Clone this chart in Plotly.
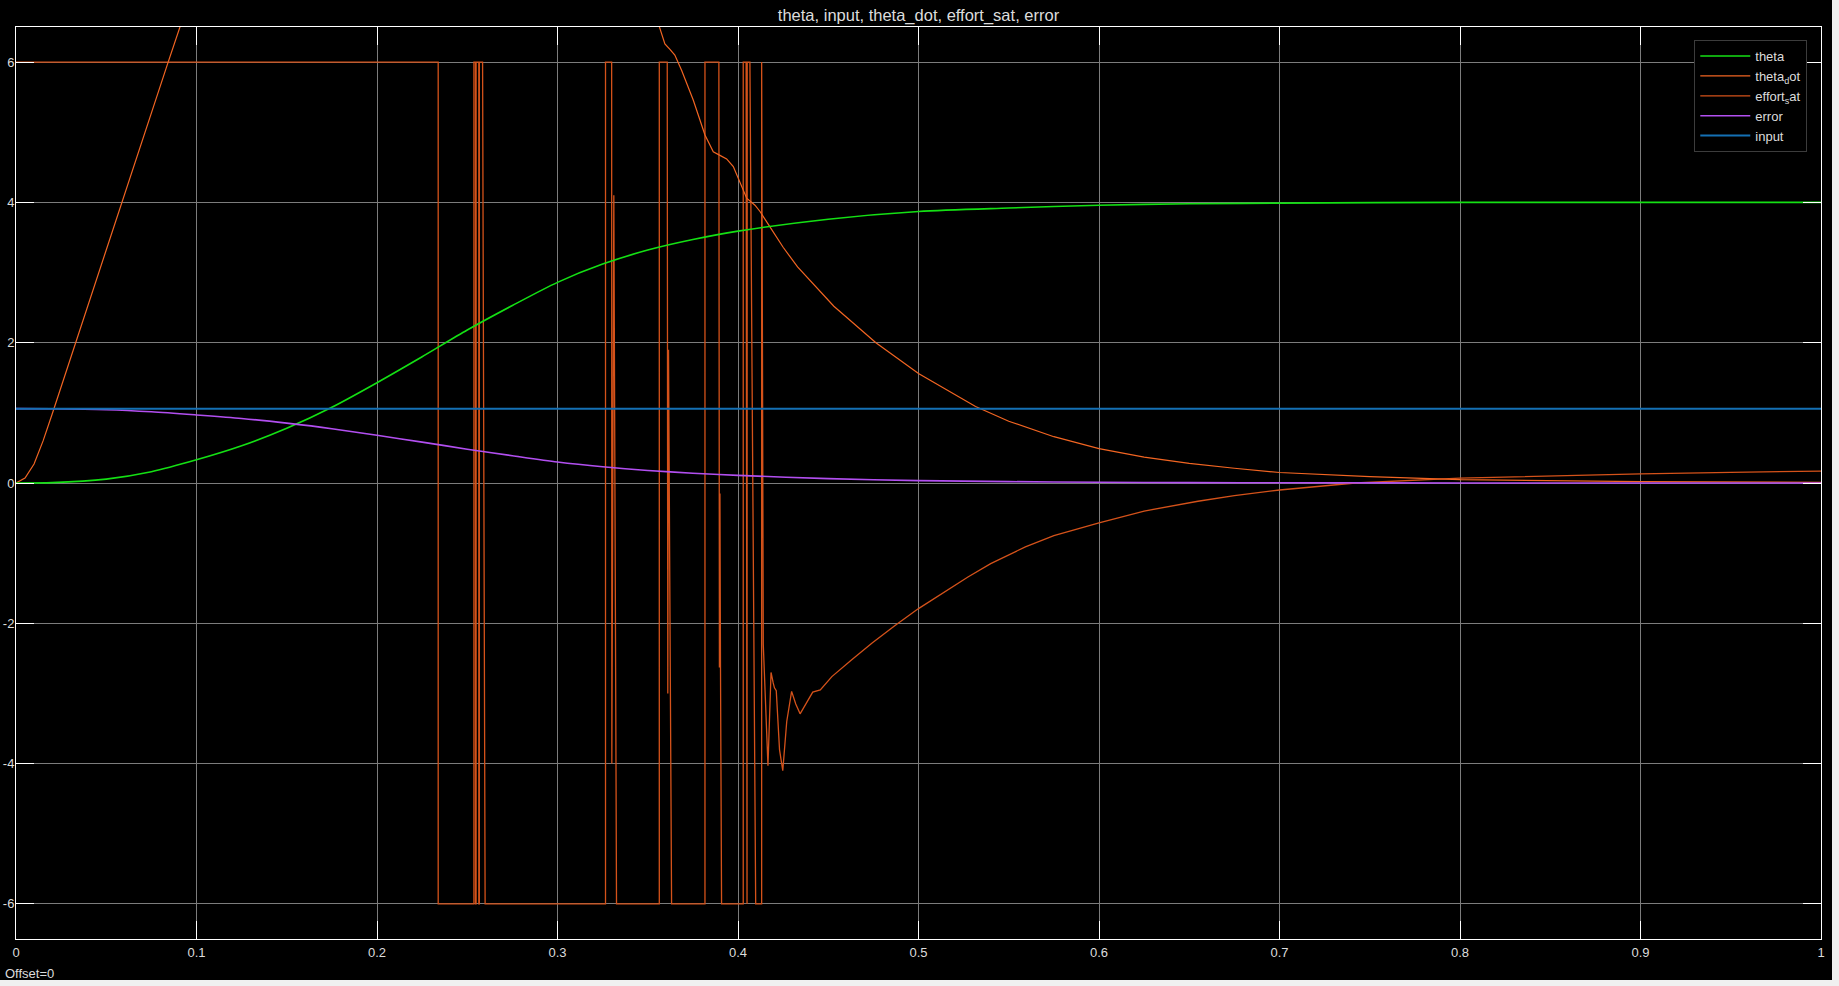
import plotly.graph_objects as go

# ---------------- data ----------------
theta_t = [0, 0.02, 0.05, 0.075, 0.1, 0.125, 0.15, 0.175, 0.2, 0.225, 0.25, 0.275, 0.3,
           0.325, 0.35, 0.375, 0.4, 0.45, 0.5, 0.55, 0.6, 0.65, 0.7, 0.8, 0.9, 1.0]
theta_v = [0, 0.005, 0.055, 0.16, 0.33, 0.53, 0.78, 1.08, 1.43, 1.80, 2.18, 2.53, 2.86,
           3.12, 3.32, 3.47, 3.59, 3.76, 3.87, 3.92, 3.96, 3.98, 3.99, 4.0, 4.0, 4.0]

error_t = theta_t
error_v = [1.06, 1.058, 1.045, 1.015, 0.97, 0.92, 0.853, 0.774, 0.68, 0.583, 0.482, 0.389, 0.30,
           0.232, 0.179, 0.14, 0.108, 0.063, 0.034, 0.02, 0.01, 0.005, 0.003, 0.0, 0.0, 0.0]

input_t = [0, 1.0]
input_v = [1.06, 1.06]

theta_dot_t = [0, 0.005, 0.01, 0.015, 0.02, 0.025, 0.03, 0.0353, 0.0584, 0.0843, 0.1, 0.12,
               0.15, 0.2, 0.25, 0.3, 0.33, 0.35, 0.3564, 0.3595, 0.3623, 0.365, 0.3688,
               0.3752, 0.3817, 0.3845, 0.3863, 0.390, 0.3937, 0.3974, 0.4, 0.4048, 0.4094,
               0.4122, 0.4177, 0.425, 0.433, 0.4531, 0.4764, 0.5, 0.5316, 0.55, 0.575, 0.6,
               0.625, 0.65, 0.675, 0.7, 0.75, 0.8, 0.9, 1.0]
theta_dot_v = [0, 0.07, 0.27, 0.6, 0.98, 1.37, 1.76, 2.18, 4.0, 6.0, 7.2, 8.6,
               10.2, 11.6, 11.8, 10.4, 8.6, 7.0, 6.49, 6.26, 6.18, 6.10, 5.88,
               5.46, 4.96, 4.80, 4.72, 4.67, 4.62, 4.51, 4.35, 4.06, 3.96,
               3.87, 3.65, 3.36, 3.08, 2.52, 2.0, 1.56, 1.09, 0.88, 0.66, 0.49,
               0.37, 0.28, 0.21, 0.15, 0.09, 0.047, 0.02, 0.01]

effort_sat_t = [0, 0.2339, 0.2339, 0.2537, 0.2537, 0.2546, 0.2546, 0.2549, 0.2549, 0.2564,
                0.2564, 0.2567, 0.2567, 0.2585, 0.2599, 0.3266, 0.3266, 0.3300, 0.3301,
                0.3312, 0.3327, 0.3564, 0.3564, 0.3608, 0.3611, 0.3615, 0.3632, 0.3817,
                0.3817, 0.3894, 0.3897, 0.3900, 0.3903, 0.3909, 0.4029, 0.4029, 0.4045,
                0.4046, 0.4050, 0.4051, 0.4066, 0.4098, 0.4131, 0.4131, 0.4140, 0.4166,
                0.4183, 0.4195, 0.4202, 0.4212, 0.4230, 0.4248, 0.4270, 0.4297, 0.4320,
                0.4344, 0.4380, 0.4414, 0.4456, 0.4520, 0.4630, 0.4743, 0.4870, 0.5,
                0.5274, 0.54, 0.5592, 0.575, 0.6, 0.625, 0.6548, 0.675, 0.7, 0.742,
                0.8, 0.85, 0.9, 0.95, 1.0]
effort_sat_v = [6, 6, -6, -6, 6, 6, -6, -6, 6, 6,
                -6, -6, 6, 6, -6, -6, 6, 6, -4.0,
                4.1, -6, -6, 6, 6, -3.0, 1.9, -6, -6,
                6, 6, -2.63, -0.15, -2.63, -6, -6, 6, 6,
                -6, -6, 6, 6, -6, -6, 6, -2.3, -4.03,
                -2.70, -2.85, -2.92, -2.96, -3.8, -4.10, -3.4, -2.97, -3.15,
                -3.29, -3.12, -2.98, -2.95, -2.76, -2.52, -2.28, -2.03, -1.79,
                -1.34, -1.15, -0.91, -0.75, -0.57, -0.40, -0.26, -0.18, -0.10, 0.0,
                0.07, 0.105, 0.13, 0.152, 0.17]

x_tick_vals = [0, 0.1, 0.2, 0.3, 0.4, 0.5, 0.6, 0.7, 0.8, 0.9, 1]
x_tick_text = ["0", "0.1", "0.2", "0.3", "0.4", "0.5", "0.6", "0.7", "0.8", "0.9", "1"]
y_tick_vals = [-6, -4, -2, 0, 2, 4, 6]
y_tick_text = ["-6", "-4", "-2", "0", "2", "4", "6"]

# ---------------- figure ----------------
FONT = "Liberation Sans, Arial, sans-serif"
TXT = "#dcdcdc"

fig = go.Figure()
fig.add_trace(go.Scatter(x=effort_sat_t, y=effort_sat_v, mode="lines", name="effort<sub>s</sub>at",
                         line=dict(color="#d4521a", width=1.3), legendrank=3))
fig.add_trace(go.Scatter(x=theta_dot_t, y=theta_dot_v, mode="lines", name="theta<sub>d</sub>ot",
                         line=dict(color="#f26522", width=1.2), legendrank=2))
fig.add_trace(go.Scatter(x=theta_t, y=theta_v, mode="lines", name="theta",
                         line=dict(color="#14e014", width=1.6, shape="spline", smoothing=0.8),
                         legendrank=1))
fig.add_trace(go.Scatter(x=error_t, y=error_v, mode="lines", name="error",
                         line=dict(color="#b24ff0", width=1.6, shape="spline", smoothing=0.8),
                         legendrank=4))
fig.add_trace(go.Scatter(x=input_t, y=input_v, mode="lines", name="input",
                         line=dict(color="#1470b4", width=2), legendrank=5))

W, H = 1832, 980
ML, MR, MT, MB = 16, 11, 27, 41

fig.update_layout(
    width=W, height=H,
    margin=dict(l=ML, r=MR, t=MT, b=MB, pad=0, autoexpand=False),
    paper_bgcolor="black", plot_bgcolor="black",
    font=dict(family=FONT, size=13, color=TXT),
    title=dict(text="theta, input, theta_dot, effort_sat, error",
               x=0.5, xref="paper", xanchor="center",
               y=1 - 15.5 / H, yref="container", yanchor="middle",
               font=dict(family=FONT, size=16.5, color=TXT)),
    showlegend=True,
    legend=dict(x=0.9924, xanchor="right", y=0.9857, yanchor="top",
                bgcolor="black", bordercolor="#3c3c3c", borderwidth=1,
                font=dict(family=FONT, size=13, color=TXT),
                itemwidth=50, tracegroupgap=0),
    annotations=[dict(text="Offset=0", xref="paper", yref="paper",
                      x=(3 - ML) / (W - ML - MR), y=-(973 - (H - MB)) / (H - MT - MB),
                      xanchor="left", yanchor="middle", showarrow=False,
                      font=dict(family=FONT, size=13, color=TXT))],
)

axis_common = dict(
    showgrid=True, gridcolor="#7c7c7c", gridwidth=1, automargin=False,
    zeroline=False, showline=True, linecolor="white", linewidth=1, mirror="ticks",
    ticks="inside", ticklen=18, tickcolor="white", tickwidth=1,
    tickfont=dict(family=FONT, size=13, color=TXT),
)
fig.update_xaxes(range=[0, 1], tickmode="array", tickvals=x_tick_vals, ticktext=x_tick_text,
                 ticklabelstandoff=1, **axis_common)
fig.update_yaxes(range=[-6.5, 6.5], tickmode="array", tickvals=y_tick_vals, ticktext=y_tick_text,
                 ticklabelstandoff=-2, **axis_common)

fig.write_html("out.html", config={"displayModeBar": False},
               post_script="document.body.style.margin='0';document.body.style.background='#f0f0f0';")
